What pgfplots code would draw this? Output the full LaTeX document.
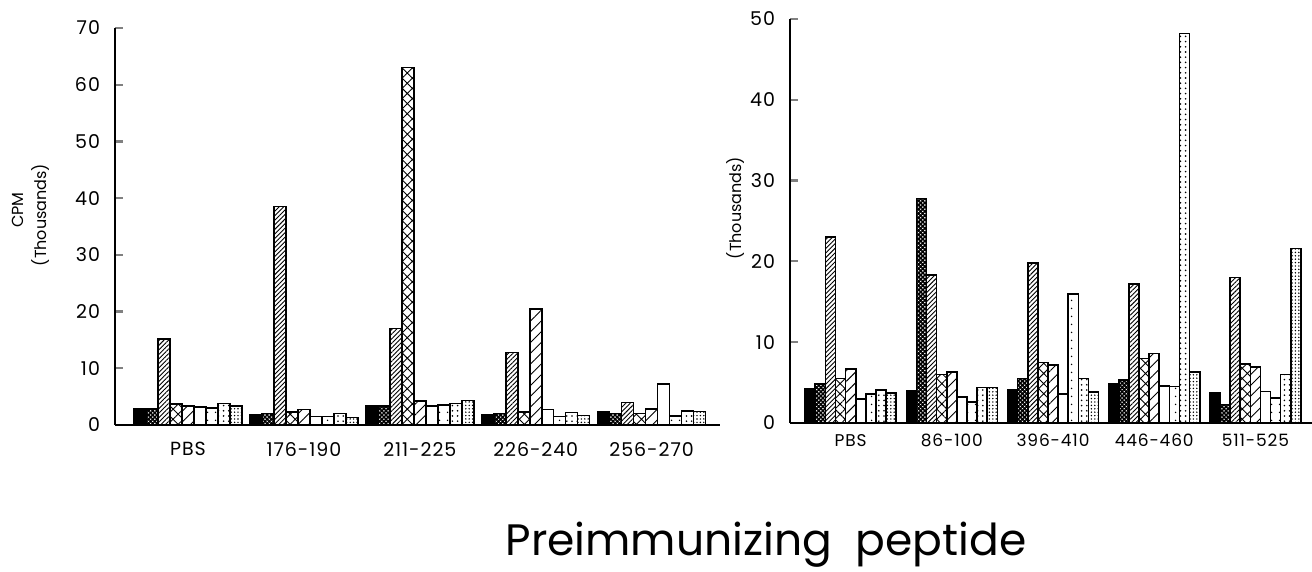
\documentclass[border=0pt]{standalone}
\usepackage{fontspec}
\setmainfont{Poppins}
\newfontfamily\tickfont{Poppins}[LetterSpace=5]
\usepackage{pgfplots}
\pgfplotsset{compat=1.18}
\usepackage{pgfplotstable}
\usetikzlibrary{patterns.meta}

% CPM (thousands), one row per peptide, one column per series
\pgfplotstableread{
x  s1  s2   s3   s4   s5   s6  s7  s8  s9
0  2.8 2.8  15.2 3.7  3.3  3.2 3.0 3.8 3.3
1  1.8 2.0  38.5 2.3  2.7  1.5 1.5 2.0 1.3
2  3.3 3.3  17.0 63.0 4.2  3.3 3.5 3.8 4.3
3  1.8 2.0  12.8 2.3  20.5 2.7 1.5 2.2 1.7
4  2.3 2.0  4.0  2.0  2.8  7.2 1.6 2.5 2.4
}\lefttable

\pgfplotstableread{
x  s1  s2   s3   s4  s5  s6  s7   s8   s9
0  4.2 4.8  23.0 5.5 6.7 3.0 3.6  4.1  3.7
1  4.0 27.8 18.3 6.0 6.3 3.2 2.6  4.4  4.4
2  4.1 5.5  19.8 7.5 7.2 3.6 16.0 5.5  3.8
3  4.9 5.3  17.2 8.0 8.6 4.6 4.5  48.2 6.3
4  3.7 2.3  18.0 7.3 6.9 3.9 3.1  6.0  21.6
}\righttable

\pgfplotsset{
  barchart/.style={
    scale only axis,
    ybar=0pt,
    ymin=0,
    axis x line*=bottom,
    axis y line*=left,
    axis line style={line width=1.1pt},
    tick align=inside,
    major tick length=4pt,
    y tick style={line width=1.1pt},
    x tick style={draw=none},
    xtick=data,
    tick label style={font=\tickfont\fontsize{9.5}{11}\selectfont},
    /pgf/number format/assume math mode=true,
    yticklabel style={xshift=-4pt},
    clip=false,
  },
  bs/.style={draw=black, line width=0.8pt},
  p1/.style={bs, fill=black},
  p2/.style={bs, pattern={Hatch[angle=45, distance=1.5pt, line width=0.8pt]}},
  p3/.style={bs, pattern={Lines[angle=45, distance=1.6pt, line width=0.45pt]}},
  p4/.style={bs, pattern={Hatch[angle=45, distance=3.6pt, line width=0.45pt]}},
  p5/.style={bs, pattern={Lines[angle=45, distance=3.8pt, line width=0.45pt]}},
  p6/.style={bs, fill=white},
  p7/.style={bs, pattern={Dots[distance=4pt, radius=0.45pt]}},
  p8/.style={bs, pattern={Dots[distance=2.6pt, radius=0.45pt]}},
  p9/.style={bs, pattern={Dots[distance=1.7pt, radius=0.4pt]}},
}

\begin{document}
\begin{tikzpicture}
\useasboundingbox (0,0) rectangle (656pt,286pt);

% left panel
\begin{axis}[barchart,
  at={(57.5pt,73.5pt)}, anchor=south west,
  width=302.5pt, height=198.5pt,
  ymax=70, ytick={0,10,...,70},
  xmin=-0.63, xmax=4.59,
  bar width=0.1034,
  xticklabels={PBS,176-190,211-225,226-240,256-270},
  xticklabel style={yshift=-5pt},
]
\addplot[p1, bar shift=-0.4136] table[x=x,y=s1] {\lefttable};
\addplot[p2, bar shift=-0.3102] table[x=x,y=s2] {\lefttable};
\addplot[p3, bar shift=-0.2068] table[x=x,y=s3] {\lefttable};
\addplot[p4, bar shift=-0.1034] table[x=x,y=s4] {\lefttable};
\addplot[p5, bar shift=0]       table[x=x,y=s5] {\lefttable};
\addplot[p6, bar shift=0.1034]  table[x=x,y=s6] {\lefttable};
\addplot[p7, bar shift=0.2068]  table[x=x,y=s7] {\lefttable};
\addplot[p8, bar shift=0.3102]  table[x=x,y=s8] {\lefttable};
\addplot[p9, bar shift=0.4136]  table[x=x,y=s9] {\lefttable};
\end{axis}

% right panel
\begin{axis}[barchart,
  at={(395pt,74.5pt)}, anchor=south west,
  width=261pt, height=202pt,
  ymax=50, ytick={0,10,...,50},
  xmin=-0.60, xmax=4.56,
  bar width=0.1,
  xticklabels={PBS,86-100,396-410,446-460,511-525},
  xticklabel style={yshift=-2pt, font=\tickfont\fontsize{8.5}{10}\selectfont},
]
\addplot[p1, bar shift=-0.4] table[x=x,y=s1] {\righttable};
\addplot[p2, bar shift=-0.3] table[x=x,y=s2] {\righttable};
\addplot[p3, bar shift=-0.2] table[x=x,y=s3] {\righttable};
\addplot[p4, bar shift=-0.1] table[x=x,y=s4] {\righttable};
\addplot[p5, bar shift=0]    table[x=x,y=s5] {\righttable};
\addplot[p6, bar shift=0.1]  table[x=x,y=s6] {\righttable};
\addplot[p7, bar shift=0.2]  table[x=x,y=s7] {\righttable};
\addplot[p8, bar shift=0.3]  table[x=x,y=s8] {\righttable};
\addplot[p9, bar shift=0.4]  table[x=x,y=s9] {\righttable};
\end{axis}

% axis titles
\node[rotate=90, font=\fontsize{8}{9}\selectfont] at (9pt,181pt) {CPM};
\node[rotate=90, font=\fontsize{8}{9}\selectfont] at (20.5pt,178.5pt) {(Thousands)};
\node[rotate=90, font=\fontsize{8}{9}\selectfont] at (368pt,182pt) {(Thousands)};
\node[anchor=base, font=\fontsize{22}{26}\selectfont] at (383pt,8pt) {Preimmunizing\ \ peptide};
\end{tikzpicture}
\end{document}
